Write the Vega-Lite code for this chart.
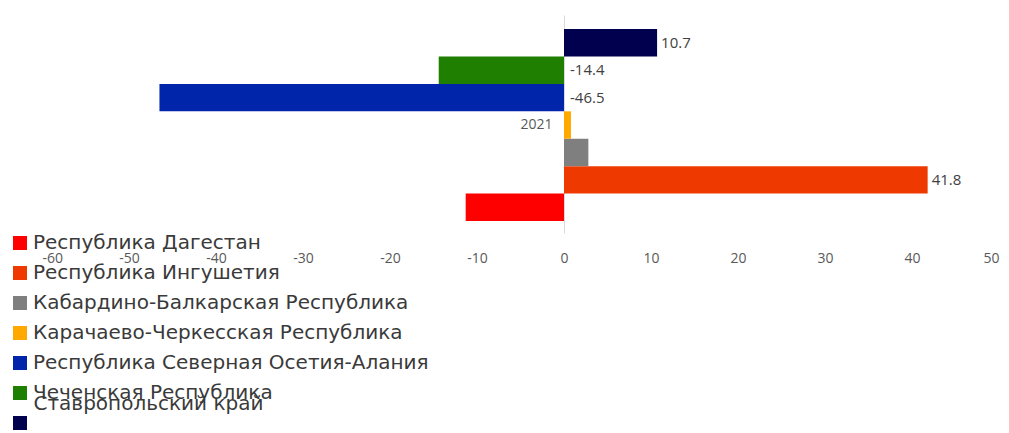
{
  "$schema": "https://vega.github.io/schema/vega-lite/v6.json",
  "width": 957,
  "height": 218,
  "autosize": "none",
  "padding": {"left": 42, "top": 15, "right": 10, "bottom": 200},
  "background": "white",
  "config": {"view": {"stroke": null}, "font": "Open Sans"},
  "data": {
    "values": [
      {"year": "2021", "region": "Республика Дагестан", "value": -11.3},
      {"year": "2021", "region": "Республика Ингушетия", "value": 41.8},
      {"year": "2021", "region": "Кабардино-Балкарская Республика", "value": 2.8},
      {"year": "2021", "region": "Карачаево-Черкесская Республика", "value": 0.8},
      {"year": "2021", "region": "Республика Северная Осетия-Алания", "value": -46.5},
      {"year": "2021", "region": "Чеченская Республика", "value": -14.4},
      {"year": "2021", "region": "Ставропольский край", "value": 10.7}
    ]
  },
  "encoding": {
    "y": {
      "field": "year", "type": "nominal",
      "scale": {"paddingInner": 0, "paddingOuter": 0.068, "align": 0.54},
      "axis": {
        "title": null, "offset": -522, "ticks": false, "domain": true,
        "domainColor": "#d9d9d9", "domainWidth": 1,
        "labelAngle": 0, "labelPadding": 12, "labelFontSize": 14,
        "labelColor": "#595959", "labelFont": "Open Sans"
      }
    },
    "yOffset": {
      "field": "region", "type": "nominal",
      "sort": ["Ставропольский край", "Чеченская Республика", "Республика Северная Осетия-Алания", "Карачаево-Черкесская Республика", "Кабардино-Балкарская Республика", "Республика Ингушетия", "Республика Дагестан"],
      "scale": {"paddingInner": 0, "paddingOuter": 0}
    }
  },
  "layer": [
    {
      "mark": {"type": "bar"},
      "encoding": {
        "x": {
          "field": "value", "type": "quantitative",
          "scale": {"domain": [-60, 50], "nice": false, "zero": false},
          "axis": {
            "title": "Ставропольский край", "titleX": -9, "titleY": 170,
            "titleAlign": "left", "titleBaseline": "middle", "titleAnchor": null,
            "titleFont": "DejaVu Sans", "titleFontSize": 20, "titleFontWeight": "normal",
            "titleColor": "#3a3a3a",
            "values": [-60, -50, -40, -30, -20, -10, 0, 10, 20, 30, 40, 50],
            "labelExpr": "replace(datum.label, '\u2212', '-')",
            "grid": false, "domain": false, "ticks": false, "labelPadding": 18,
            "labelFontSize": 14, "labelColor": "#595959", "labelFont": "Open Sans"
          }
        },
        "color": {
          "field": "region", "type": "nominal",
          "sort": ["Республика Дагестан", "Республика Ингушетия", "Кабардино-Балкарская Республика", "Карачаево-Черкесская Республика", "Республика Северная Осетия-Алания", "Чеченская Республика", "Ставропольский край"],
          "scale": {
            "domain": ["Республика Дагестан", "Республика Ингушетия", "Кабардино-Балкарская Республика", "Карачаево-Черкесская Республика", "Республика Северная Осетия-Алания", "Чеченская Республика", "Ставропольский край"],
            "range": ["#ff0000", "#ee3a00", "#7f7f7f", "#ffa800", "#0024aa", "#1f7f00", "#00004f"]
          },
          "legend": {
            "title": null, "orient": "none", "legendX": -32, "legendY": 218,
            "symbolType": "square", "symbolSize": 196, "symbolStrokeWidth": 0,
            "labelFontSize": 20, "labelFont": "DejaVu Sans", "labelColor": "#3a3a3a",
            "labelExpr": "datum.label == 'Ставропольский край' ? '' : datum.label",
            "labelOffset": 3, "rowPadding": 10, "padding": 0, "labelLimit": 600
          }
        }
      }
    },
    {
      "transform": [{"filter": "datum.value > 5"}],
      "mark": {"type": "text", "align": "left", "dx": 4, "fontSize": 15, "font": "Open Sans", "color": "#404040"},
      "encoding": {
        "x": {"field": "value", "type": "quantitative"},
        "text": {"field": "value", "type": "nominal"}
      }
    },
    {
      "transform": [{"filter": "datum.value < -12"}],
      "mark": {"type": "text", "align": "left", "dx": 6, "fontSize": 15, "font": "Open Sans", "color": "#404040"},
      "encoding": {
        "x": {"datum": 0, "type": "quantitative"},
        "text": {"field": "value", "type": "nominal"}
      }
    }
  ]
}
